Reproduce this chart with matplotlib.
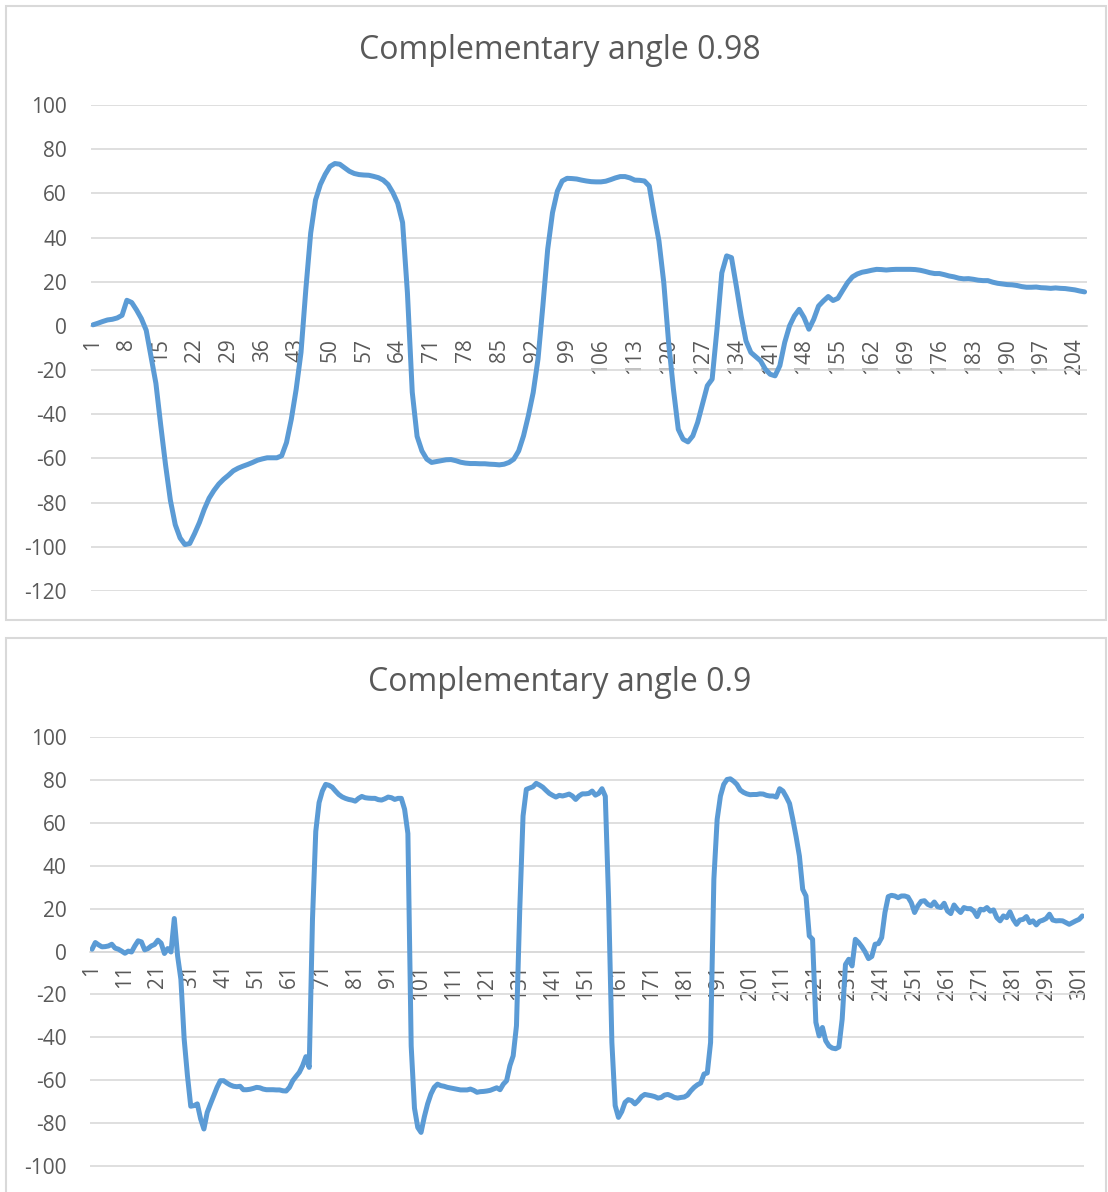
import numpy as np
import matplotlib
matplotlib.use("Agg")
import matplotlib.pyplot as plt
from matplotlib.patches import Rectangle

plt.rcParams['font.family'] = ['Open Sans', 'DejaVu Sans']
plt.rcParams['axes.unicode_minus'] = False

# angle readings, filter constant 0.98
angle_098 = [
    0.5, 1.2, 2.0, 2.7, 3.0, 3.6, 4.8, 11.6, 10.6, 7.2,
    3.3, -2.0, -14, -26, -45, -63, -79, -90, -96, -99,
    -98.5, -94, -89, -83, -78, -74.5, -71.6, -69.4, -67.6, -65.6,
    -64.4, -63.5, -62.7, -61.8, -60.8, -60.2, -59.7, -59.7, -59.7, -58.8,
    -52.8, -42.2, -28.7, -12, 16.6, 42, 57, 64, 68.6, 72.2,
    73.5, 73.2, 71.6, 70, 69, 68.5, 68.3, 68.2, 67.7, 67.1,
    66, 64, 60.3, 55.5, 46.8, 15, -30, -50, -56.6, -60.3,
    -61.8, -61.4, -61, -60.6, -60.5, -61, -61.7, -62.1, -62.3, -62.3,
    -62.4, -62.4, -62.6, -62.7, -62.9, -62.6, -61.8, -60.3, -56.6, -49.8,
    -40.7, -30.2, -15, 9, 34.7, 51.3, 61, 65.6, 66.8, 66.7,
    66.5, 66, 65.6, 65.3, 65.2, 65.2, 65.5, 66.2, 67, 67.6,
    67.6, 67, 66, 65.9, 65.6, 63.3, 50.5, 38.5, 19.6, -7.5,
    -28.7, -46.8, -51.3, -52.5, -49.8, -43.7, -35.4, -27.1, -24.1, -1.5,
    24, 31.7, 30.9, 18, 4.5, -6.8, -12, -13.9, -15.8, -19.6,
    -21.9, -22.6, -18, -7.5, 0, 4.5, 7.5, 3.8, -1.5, 3,
    9, 11.3, 13.3, 11.5, 12.5, 16.1, 19.6, 22.2, 23.5, 24.3,
    24.7, 25.2, 25.6, 25.5, 25.3, 25.5, 25.6, 25.6, 25.6, 25.6,
    25.5, 25.2, 24.7, 24.1, 23.7, 23.7, 23.2, 22.6, 22.2, 21.6,
    21.3, 21.4, 21.1, 20.7, 20.5, 20.5, 19.8, 19.3, 19, 18.7,
    18.6, 18.3, 17.8, 17.5, 17.5, 17.6, 17.3, 17.2, 17, 17.2,
    17, 16.9, 16.6, 16.3, 15.8, 15.4,
]

# angle readings, filter constant 0.9
angle_09 = [
    1.1, 4.2, 3.1, 2.2, 2.3, 2.6, 3.4, 1.6, 1.1, 0.2,
    -0.8, 0.2, -0.2, 2.6, 5.0, 4.5, 0.8, 1.4, 2.6, 3.3,
    5.3, 3.9, -0.9, 1.4, -0.2, 15.4, -2, -12.9, -40.8, -57.9,
    -72.1, -71.8, -71, -78, -82.7, -75, -71, -67.2, -63.3, -60.2,
    -60.2, -61.3, -62.2, -62.8, -63, -62.8, -64.4, -64.4, -64.2, -63.8,
    -63.3, -63.5, -64.1, -64.4, -64.4, -64.4, -64.5, -64.5, -64.9, -65,
    -63.3, -60.2, -58.2, -56.3, -53.2, -49, -54, 15, 56, 69.4,
    74.8, 77.9, 77.5, 76.6, 74.8, 73.2, 72.1, 71.4, 70.9, 70.6,
    70.1, 71.4, 72.3, 71.7, 71.5, 71.4, 71.4, 70.8, 70.6, 71.2,
    72, 71.7, 70.9, 71.4, 71.4, 66.3, 55, -44, -73, -82,
    -84.3, -77, -71, -66.4, -63.3, -61.8, -62.5, -62.8, -63.3, -63.6,
    -63.9, -64.2, -64.5, -64.5, -64.5, -64.1, -64.7, -65.6, -65.3, -65.2,
    -65, -64.7, -64.1, -63.5, -64.4, -61.8, -60.2, -53.2, -48.6, -34.6,
    19.7, 63.2, 75.6, 76.2, 76.8, 78.4, 77.6, 76.6, 75.1, 73.7,
    72.8, 72, 72.8, 72.5, 72.9, 73.4, 72.5, 70.9, 72.5, 73.5,
    73.5, 73.7, 74.8, 72.9, 73.7, 75.9, 72.4, 24.4, -42.4, -71.8,
    -77.3, -74.6, -70.3, -69, -69.5, -71, -69.5, -67.6, -66.6, -66.9,
    -67.2, -67.6, -68.3, -68, -66.9, -66.6, -67.2, -68, -68.3, -68,
    -67.8, -66.9, -64.9, -63.3, -62.1, -61.3, -57.1, -56.6, -42.4, 33.7,
    61.6, 72.5, 77.9, 80.2, 80.5, 79.4, 77.9, 75.3, 74.2, 73.5,
    73.1, 73.2, 73.2, 73.5, 73.4, 72.8, 72.5, 72.5, 72, 75.9,
    74.8, 72.1, 69, 61.6, 53.5, 44.5, 29, 25.9, 7.3, 5.7,
    -33, -39.3, -35.4, -41.6, -44, -45, -45.3, -44.5, -31.5, -6,
    -3.6, -6.7, 5.7, 4.2, 2.2, -0.2, -3.3, -2.3, 3.4, 3.7,
    6.5, 18.2, 25.6, 26.2, 25.9, 25.1, 25.9, 25.9, 25.4, 22.8,
    18.2, 21.3, 23.4, 23.7, 22, 21.3, 23.1, 20.9, 20.5, 22.5,
    18.9, 17.7, 21.7, 19.7, 18.2, 20.5, 20, 20, 18.9, 16.3,
    19.7, 19.4, 20.5, 18.8, 19.4, 15.8, 14.3, 16.6, 15.8, 18.5,
    15, 12.7, 14.7, 15, 16.3, 13.5, 14.3, 12.4, 14.1, 14.6,
    15.4, 17.4, 14.7, 14.3, 14.4, 14.3, 13.5, 12.7, 13.5, 14.3,
    15, 16.6,
]

titles = ["Complementary angle 0.98", "Complementary angle 0.9"]
label_steps = [7, 10]
# the lower chart is cut off below -100
y_ticks = [list(range(-120, 101, 20)), list(range(-100, 101, 20))]

W, H = 1108, 1192
BLUE = '#5B9BD5'
GRID = '#D9D9D9'
TEXT = '#595959'


def box(x0, y0, x1, y1):
    # pixel box (top-left origin) -> figure fraction rect
    return [x0 / W, 1 - y1 / H, (x1 - x0) / W, (y1 - y0) / H]


fig = plt.figure(figsize=(W / 100, H / 100), dpi=100)

# chart frames
for top, bottom in [(6, 620), (638, 1240)]:
    fig.patches.append(Rectangle((6 / W, 1 - bottom / H), 1100 / W, (bottom - top) / H,
                                 transform=fig.transFigure, fill=False,
                                 edgecolor=GRID, lw=1.5))

axes_rects = [box(90.6, 105, 1087, 591), box(90.4, 737, 1084, 1209)]
title_y = [59, 691]

for values, title, step, rect, ty, yt in zip([angle_098, angle_09], titles, label_steps,
                                             axes_rects, title_y, y_ticks):
    ax = fig.add_axes(rect)
    for side in ['top', 'right', 'left']:
        ax.spines[side].set_visible(False)
    ax.spines['bottom'].set_position(('data', 0))
    ax.spines['bottom'].set_color(GRID)
    ax.spines['bottom'].set_linewidth(1.2)

    x = np.arange(1, len(values) + 1)
    ax.plot(x, values, color=BLUE, lw=3.6, solid_joinstyle='round',
            solid_capstyle='round', zorder=3)

    ax.set_xlim(0.5, len(values) + 0.5)
    ax.set_ylim(-120, 100)
    ax.set_yticks(yt)
    ax.set_yticklabels([str(v) for v in yt])
    ax.set_xticks(x[::step])
    ax.set_xticklabels([str(v) for v in x[::step]])

    ax.yaxis.grid(True, color=GRID, lw=1.2)
    ax.set_axisbelow(True)

    ax.tick_params(axis='y', length=0, pad=17, labelsize=15, labelcolor=TEXT)
    ax.tick_params(axis='x', length=0, pad=9, labelsize=15, labelcolor=TEXT,
                   labelrotation=90)

    fig.text(559.5 / W, 1 - ty / H, title, ha='center', va='baseline',
             fontsize=23, color=TEXT)

fig.savefig('out.png', dpi=100)
